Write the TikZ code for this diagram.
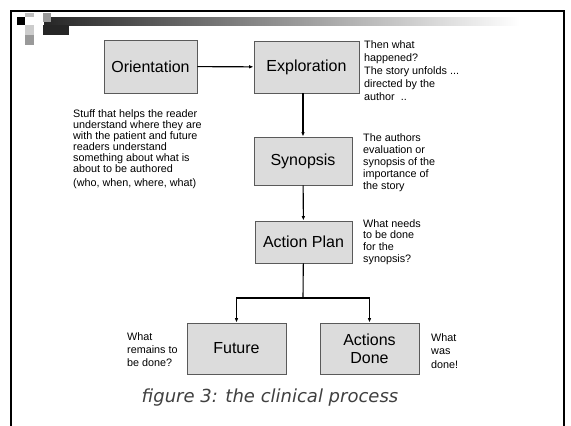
\documentclass[tikz,border=0pt]{standalone}
\usepackage{fontspec}
\setmainfont{Liberation Sans}
\newfontfamily\capfont{DejaVu Sans}
\usetikzlibrary{arrows.meta}
\definecolor{boxfill}{HTML}{DCDCDC}
\definecolor{boxline}{HTML}{5A5A5A}
\tikzset{
    stage/.style={rectangle, draw=boxline, fill=boxfill, line width=0.9pt,
        font=\fontsize{16}{18}\selectfont, align=center, inner sep=0pt},
    note/.style={anchor=north west, inner sep=0pt, align=left},
    flow/.style={-{Latex[length=4.5pt,width=3.6pt]}, line width=1.1pt}
}
\begin{document}
\begin{tikzpicture}[x=1pt, y=-1pt]
    \useasboundingbox[fill=white] (0,0) rectangle (571,426);
    % slide frame and header
    \draw[line width=2pt] (11,426) -- (11,11) -- (564,11) -- (564,426);
    \shade[left color=black!85, right color=white] (44,17) rectangle (520,25);
    \fill[black] (17,17) rectangle (25,25);
    \fill[black!25] (25,13) rectangle (34,17);
    \fill[black!40] (43,13) rectangle (51,22);
    \fill[black!20] (25,25) rectangle (34,35);
    \fill[black!40] (25,35) rectangle (34,45);
    \fill[black!85] (43,25) rectangle (69,35);
    % stages
    \node[stage, minimum width=93pt, minimum height=53pt] (orient) at (150.5,66.5) {Orientation};
    \node[stage, minimum width=105pt, minimum height=52pt] (explor) at (306.5,67) {Exploration};
    \node[stage, minimum width=98pt, minimum height=48pt] (synop) at (303,161) {Synopsis};
    \node[stage, minimum width=97pt, minimum height=42pt] (plan) at (303.5,242) {Action Plan};
    \node[stage, minimum width=99pt, minimum height=51pt] (future) at (236.5,348.5) {Future};
    \node[stage, minimum width=99pt, minimum height=51pt] (done) at (369.5,348.5) {Actions\\Done};
    % connectors
    \coordinate (fork) at (303,298);
    \draw[flow] (orient) -- (explor);
    \draw[flow] (synop.north |- explor.south) -- (synop.north);
    \draw[flow] (synop) -- (plan);
    \draw[line width=1.1pt] (plan) -- (fork);
    \draw[flow] (fork) -| (future.north);
    \draw[flow] (fork) -| (done.north);
    % notes
    \node[note, font=\fontsize{10.8}{11}\selectfont] (stuff) at (73,109)
        {Stuff that helps the reader\\understand where they are\\with the patient and future\\readers understand\\something about what is\\about to be authored\\[3pt](who, when, where, what)};
    \node[note, font=\fontsize{10.8}{13}\selectfont] (happened) at (364,40)
        {Then what\\happened?\\The story unfolds ...\\directed by the\\author\ \ ..};
    \node[note, font=\fontsize{10.8}{12.2}\selectfont] (evaluation) at (363,133)
        {The authors\\evaluation or\\synopsis of the\\importance of\\the story};
    \node[note, font=\fontsize{10.8}{11.7}\selectfont] (needs) at (363,219)
        {What needs\\to be done\\for the\\synopsis?};
    \node[note, font=\fontsize{10.8}{13}\selectfont] (remains) at (127,332)
        {What\\remains to\\be done?};
    \node[note, font=\fontsize{10.8}{13.5}\selectfont] (wasdone) at (431,333)
        {What\\was\\done!};
    \node[font=\capfont\itshape\fontsize{18}{20}\selectfont, text=black!75] (caption) at (270,398)
        {figure 3: the clinical process};
\end{tikzpicture}
\end{document}
